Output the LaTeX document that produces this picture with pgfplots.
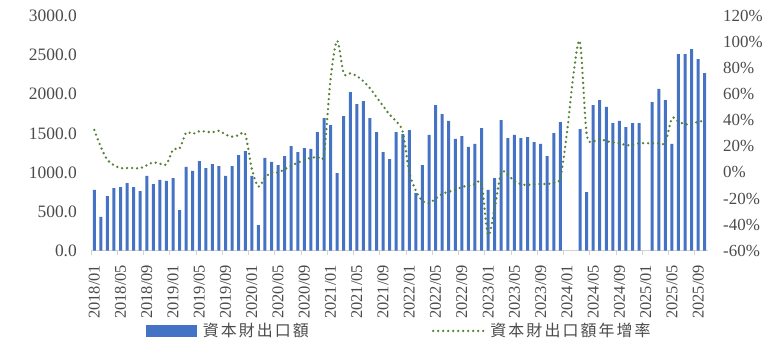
\documentclass[border=0pt]{standalone}
\usepackage{fontspec}
\setmainfont{Liberation Serif}
\newfontfamily\cjk[LetterSpace=13]{Noto Sans CJK TC}
\usepackage{pgfplots}
\usepackage{pgfplotstable}
\pgfplotsset{compat=1.18}
\definecolor{barblue}{RGB}{68,114,196}
\definecolor{linegreen}{RGB}{84,130,53}
\definecolor{axisgray}{RGB}{210,210,210}
\definecolor{textgray}{RGB}{75,75,75}
\tikzset{growthline/.style={linegreen, line width=2.6bp, dash pattern=on 0bp off 5bp, line cap=round}}
\pgfplotsset{
  barlegend/.style={legend image code/.code={\fill[barblue] (0bp,-5.5bp) rectangle (50bp,5.5bp);}},
  linelegend/.style={legend image code/.code={\draw[growthline] (0bp,0bp) -- (50bp,0bp);}}
}
\pgfplotstableread{
idx val g
0 776 32.6
1 431 19.5
2 699 9.6
3 801 5.6
4 814 3.3
5 865 3.4
6 814 3.4
7 763 3.2
8 955 5.5
9 852 7.8
10 904 6.7
11 891 6.3
12 929 17.5
13 520 18.5
14 1070 30.5
15 1019 29.5
16 1146 31.6
17 1057 31.3
18 1108 30.8
19 1082 32
20 955 29
21 1082 27.5
22 1223 28.5
23 1274 29.4
24 955 2.9
25 328 -10.9
26 1185 -4
27 1134 0
28 1095 0
29 1210 2.4
30 1338 5.2
31 1261 7.5
32 1312 9.7
33 1300 11.1
34 1517 12
35 1696 14
36 1606 72
37 993 101
38 1721 76
39 2028 76
40 1875 74
41 1913 70
42 1696 64.6
43 1517 57.7
44 1261 51
45 1172 44.3
46 1517 39.2
47 1491 31
48 1542 0
49 737 -14
50 1095 -22
51 1479 -23.6
52 1862 -20
53 1747 -16.5
54 1658 -14.7
55 1428 -13.4
56 1466 -11.1
57 1326 -10.1
58 1364 -9
59 1568 -9
60 776 -48
61 929 -27
62 1670 0
63 1440 -2
64 1479 -6.5
65 1440 -9
66 1453 -9.6
67 1389 -9
68 1364 -8.8
69 1210 -8.8
70 1504 -7.9
71 1645 -4
72 nan 30
73 nan 75
74 1555 100
75 750 30
76 1862 24.1
77 1926 25.7
78 1837 24.1
79 1632 23.1
80 1658 22.4
81 1581 21
82 1632 21
83 1632 22.4
84 nan 22.4
85 1900 22.4
86 2067 22.4
87 1926 23
88 1364 41.5
89 2514 39
90 2514 37
91 2578 37
92 2450 39
93 2271 39.5
}\data

\begin{document}
\begin{tikzpicture}
\useasboundingbox (0,0) rectangle (781bp,354bp);
\begin{axis}[
  at={(91bp,103.3bp)}, anchor=south west,
  scale only axis, width=617bp, height=234.7bp,
  xmin=-0.5, xmax=93.5, ymin=0, ymax=3000,
  axis x line*=bottom, axis y line*=left,
  y axis line style={draw=none},
  x axis line style={draw=axisgray, line width=0.8bp},
  tick style={draw=axisgray, line width=0.8bp},
  tick align=outside,
  ytick={0,500,...,3000},
  yticklabels={0.0,500.0,1000.0,1500.0,2000.0,2500.0,3000.0},
  ytick style={draw=none},
  xtick={0,4,...,92},
  xticklabels={2018/01,2018/05,2018/09,2019/01,2019/05,2019/09,2020/01,2020/05,2020/09,2021/01,2021/05,2021/09,2022/01,2022/05,2022/09,2023/01,2023/05,2023/09,2024/01,2024/05,2024/09,2025/01,2025/05,2025/09},
  major tick length=0bp,
  extra x ticks={-0.5,3.5,...,91.5},
  extra x tick labels={},
  extra x tick style={major tick length=4bp},
  tick label style={text=textgray, inner sep=0pt},
  yticklabel style={font=\fontsize{17.5}{17.5}\selectfont},
  xticklabel style={font=\fontsize{16.5}{16.5}\selectfont, rotate=90, anchor=east},
  yticklabel shift=14bp,
  xticklabel shift=14bp,
  ybar, bar width=3bp,
]
\addplot[draw=none, fill=barblue] table[x=idx, y=val]{\data};
\end{axis}
\begin{axis}[
  at={(91bp,103.3bp)}, anchor=south west,
  scale only axis, width=617bp, height=234.7bp,
  xmin=-0.5, xmax=93.5, ymin=-60, ymax=120,
  hide x axis,
  axis y line*=right,
  y axis line style={draw=none},
  ytick={-60,-40,...,120},
  yticklabels={-60\%,-40\%,-20\%,0\%,20\%,40\%,60\%,80\%,100\%,120\%},
  ytick style={draw=none},
  major tick length=0bp,
  tick label style={text=textgray, font=\fontsize{17}{17}\selectfont, inner sep=0pt},
  yticklabel shift=15bp,
  legend columns=2,
  legend style={at={(0.5,-0.342)}, anchor=center, draw=none, fill=none,
    font=\fontsize{16}{16}\selectfont, text=textgray,
    /tikz/every odd column/.append style={column sep=4bp},
    /tikz/every even column/.append style={column sep=121bp}},
]
\addlegendimage{barlegend}
\addlegendentry{\cjk 資本財出口額}
\addplot[growthline, smooth, tension=0.5, linelegend] table[x=idx, y=g]{\data};
\addlegendentry{\cjk 資本財出口額年增率}
\end{axis}
\end{tikzpicture}
\end{document}
